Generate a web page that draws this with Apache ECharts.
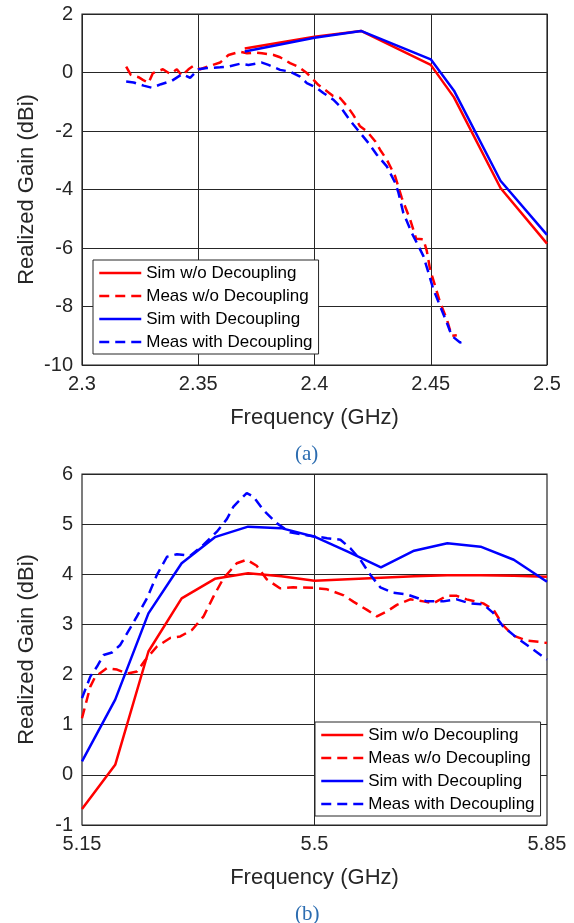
<!DOCTYPE html>
<html>
<head>
<meta charset="utf-8">
<script src="https://cdn.jsdelivr.net/npm/echarts@6/dist/echarts.min.js"></script>
<style>
html,body{margin:0;padding:0;background:#fff;}
#chart{width:574px;height:923px;}
</style>
</head>
<body>
<div id="chart"></div>
<script>
// ---------- DATA ----------
const seriesNames = ['Sim w/o Decoupling', 'Meas w/o Decoupling', 'Sim with Decoupling', 'Meas with Decoupling'];
const captionA = '(a)';
const captionB = '(b)';
const xNameA = 'Frequency (GHz)';
const yNameA = 'Realized Gain (dBi)';
const xTicksB = [5.15, 5.5, 5.85];

// (a) 2.4 GHz band  [frequency GHz, gain dBi]
const simWoA = [[2.37,0.82],[2.40,1.22],[2.42,1.42],[2.45,0.26],[2.46,-0.85],[2.48,-3.95],[2.50,-5.85]];
const simWithA = [[2.37,0.72],[2.40,1.19],[2.42,1.42],[2.45,0.45],[2.46,-0.62],[2.48,-3.70],[2.50,-5.55]];
const measWoA = [[2.319,0.20],[2.321,-0.08],[2.3243,-0.16],[2.3262,-0.25],[2.3286,-0.36],[2.3305,-0.02],[2.3348,0.11],[2.338,-0.05],[2.3408,0.11],[2.343,-0.11],[2.3458,0.11],[2.348,0.23],[2.3508,0.11],[2.3551,0.23],[2.3594,0.34],[2.363,0.60],[2.368,0.71],[2.371,0.66],[2.3752,0.68],[2.3774,0.66],[2.3824,0.60],[2.3852,0.52],[2.3895,0.32],[2.393,0.20],[2.3967,-0.02],[2.3989,-0.19],[2.4016,-0.42],[2.408,-0.80],[2.411,-0.87],[2.4145,-1.20],[2.4166,-1.44],[2.4196,-1.84],[2.4225,-2.01],[2.4261,-2.35],[2.4282,-2.64],[2.4311,-2.98],[2.4347,-3.55],[2.4375,-4.28],[2.4411,-5.02],[2.4437,-5.68],[2.4468,-5.70],[2.4483,-6.10],[2.4497,-6.73],[2.4519,-7.30],[2.454,-7.86],[2.4569,-8.43],[2.459,-9.00],[2.4612,-8.98]];
const measWithA = [[2.319,-0.31],[2.3222,-0.34],[2.3265,-0.45],[2.330,-0.52],[2.334,-0.40],[2.3387,-0.28],[2.343,-0.06],[2.3465,-0.18],[2.3501,0.11],[2.3537,0.15],[2.3594,0.18],[2.363,0.20],[2.368,0.30],[2.3716,0.26],[2.3774,0.34],[2.3802,0.26],[2.3852,0.09],[2.3895,0.03],[2.3938,-0.14],[2.3967,-0.36],[2.401,-0.53],[2.4038,-0.70],[2.4081,-0.93],[2.411,-1.16],[2.4146,-1.56],[2.4167,-1.78],[2.4203,-2.13],[2.4232,-2.41],[2.4268,-2.81],[2.4311,-3.21],[2.4347,-3.77],[2.4361,-4.11],[2.4382,-4.80],[2.4418,-5.48],[2.4447,-5.93],[2.4468,-6.27],[2.449,-6.84],[2.4511,-7.41],[2.454,-7.98],[2.4569,-8.55],[2.459,-9.00],[2.4626,-9.23],[2.4655,-9.17]];

// (b) 5 GHz band
const simWoB = [[5.15,-0.68],[5.20,0.20],[5.25,2.46],[5.30,3.52],[5.35,3.91],[5.40,4.02],[5.45,3.96],[5.50,3.87],[5.55,3.90],[5.60,3.93],[5.65,3.96],[5.70,3.98],[5.75,3.98],[5.80,3.97],[5.85,3.95]];
const simWithB = [[5.15,0.27],[5.20,1.50],[5.25,3.22],[5.30,4.22],[5.35,4.74],[5.40,4.95],[5.45,4.92],[5.50,4.75],[5.55,4.45],[5.60,4.14],[5.65,4.47],[5.70,4.62],[5.75,4.55],[5.80,4.29],[5.85,3.85]];
const measWoB = [[5.15,1.13],[5.1625,1.76],[5.17,1.96],[5.1876,2.13],[5.2027,2.10],[5.2177,2.02],[5.2327,2.06],[5.2452,2.29],[5.2628,2.56],[5.2828,2.73],[5.2979,2.76],[5.3155,2.89],[5.333,3.16],[5.348,3.56],[5.363,3.92],[5.383,4.22],[5.398,4.29],[5.413,4.17],[5.428,3.90],[5.448,3.72],[5.468,3.74],[5.498,3.73],[5.519,3.70],[5.544,3.58],[5.559,3.45],[5.579,3.29],[5.594,3.16],[5.609,3.26],[5.624,3.39],[5.644,3.50],[5.664,3.46],[5.679,3.42],[5.699,3.57],[5.714,3.57],[5.729,3.50],[5.754,3.42],[5.769,3.30],[5.784,2.98],[5.799,2.78],[5.819,2.68],[5.839,2.65],[5.85,2.63]];
const measWithB = [[5.15,1.53],[5.1625,1.96],[5.1726,2.16],[5.1825,2.39],[5.1951,2.44],[5.2076,2.59],[5.2227,2.93],[5.2327,3.16],[5.2478,3.52],[5.2628,3.99],[5.2779,4.35],[5.2929,4.40],[5.313,4.37],[5.333,4.59],[5.353,4.85],[5.368,5.10],[5.378,5.35],[5.398,5.62],[5.408,5.55],[5.423,5.28],[5.443,5.02],[5.463,4.84],[5.488,4.78],[5.519,4.72],[5.539,4.69],[5.554,4.52],[5.569,4.29],[5.584,3.99],[5.599,3.74],[5.619,3.63],[5.639,3.60],[5.669,3.46],[5.694,3.46],[5.714,3.50],[5.734,3.42],[5.754,3.40],[5.769,3.23],[5.784,2.96],[5.804,2.74],[5.827,2.52],[5.85,2.30]];

// ---------- CHART ----------
const FONT = 'Liberation Sans';
const TXT = '#262626';
const GRIDC = '#262626';
const RED = '#ff0000', BLUE = '#0000ff';
const DASH = [10, 6];

function mkSeries(name, data, color, dashed, idx, extra) {
  return Object.assign({
    name: name, type: 'line', data: data,
    xAxisIndex: idx, yAxisIndex: idx,
    symbol: 'none', showSymbol: false, smooth: false, animation: false,
    lineStyle: { color: color, width: 2.5, type: dashed ? DASH : 'solid' },
    itemStyle: { color: color }
  }, extra || {});
}

function mkLegend(left, top) {
  return {
    orient: 'vertical', left: left, top: top,
    itemWidth: 42, itemHeight: 14, itemGap: 5,
    padding: [4, 6, 3, 5],
    backgroundColor: '#fff', borderColor: GRIDC, borderWidth: 1, borderRadius: 0,
    textStyle: { fontFamily: FONT, fontSize: 17, lineHeight: 18, color: '#000' },
    itemStyle: { opacity: 0 },
    lineStyle: { width: 2.5 },
    selectedMode: false,
    data: seriesNames
  };
}

const axisLabelStyle = { fontFamily: FONT, fontSize: 20, color: TXT };
const nameStyle = { fontFamily: FONT, fontSize: 22, color: TXT };

const chart = echarts.init(document.getElementById('chart'), null, { renderer: 'canvas' });
chart.setOption({
  backgroundColor: '#fff',
  animation: false,
  title: [
    { text: captionA, left: 290, top: 439, textStyle: { fontFamily: 'Liberation Serif', fontSize: 21, fontWeight: 'normal', color: '#2b6cb0' } },
    { text: captionB, left: 290, top: 899, textStyle: { fontFamily: 'Liberation Serif', fontSize: 21, fontWeight: 'normal', color: '#2b6cb0' } }
  ],
  grid: [
    { left: 82, top: 14, width: 465, height: 351, show: true, borderColor: GRIDC, borderWidth: 1.2, backgroundColor: '#fff' },
    { left: 82, top: 474, width: 465, height: 351, show: true, borderColor: GRIDC, borderWidth: 1.2, backgroundColor: '#fff' }
  ],
  legend: [ mkLegend(93, 260), mkLegend(315, 722) ],
  xAxis: [
    { gridIndex: 0, type: 'value', min: 2.3, max: 2.5, interval: 0.05,
      name: xNameA, nameLocation: 'middle', nameGap: 42, nameTextStyle: nameStyle,
      axisLine: { show: false }, axisTick: { show: false },
      axisLabel: Object.assign({ margin: 9 }, axisLabelStyle),
      splitLine: { show: true, lineStyle: { color: GRIDC, width: 1 } } },
    { gridIndex: 1, type: 'value', min: 5.15, max: 5.85,
      name: xNameA, nameLocation: 'middle', nameGap: 42, nameTextStyle: nameStyle,
      axisLine: { show: false },
      axisTick: { show: false, customValues: xTicksB },
      axisLabel: Object.assign({ margin: 9, customValues: xTicksB }, axisLabelStyle),
      splitLine: { show: false } }
  ],
  yAxis: [
    { gridIndex: 0, type: 'value', min: -10, max: 2, interval: 2,
      name: yNameA, nameLocation: 'middle', nameGap: 44, nameMoveOverlap: false, nameTextStyle: nameStyle,
      axisLine: { show: false }, axisTick: { show: false },
      axisLabel: Object.assign({ margin: 9 }, axisLabelStyle),
      splitLine: { show: true, lineStyle: { color: GRIDC, width: 1 } } },
    { gridIndex: 1, type: 'value', min: -1, max: 6, interval: 1,
      name: yNameA, nameLocation: 'middle', nameGap: 44, nameMoveOverlap: false, nameTextStyle: nameStyle,
      axisLine: { show: false }, axisTick: { show: false },
      axisLabel: Object.assign({ margin: 9 }, axisLabelStyle),
      splitLine: { show: true, lineStyle: { color: GRIDC, width: 1 } } }
  ],
  series: [
    mkSeries(seriesNames[0], simWoA, RED, false, 0),
    mkSeries(seriesNames[1], measWoA, RED, true, 0),
    mkSeries(seriesNames[2], simWithA, BLUE, false, 0),
    mkSeries(seriesNames[3], measWithA, BLUE, true, 0),
    mkSeries(seriesNames[0], simWoB, RED, false, 1, {
      markLine: { silent: true, symbol: ['none', 'none'], animation: false, z: 1,
        label: { show: false },
        lineStyle: { color: GRIDC, width: 1, type: 'solid' },
        data: [ { xAxis: xTicksB[1] } ] }
    }),
    mkSeries(seriesNames[1], measWoB, RED, true, 1),
    mkSeries(seriesNames[2], simWithB, BLUE, false, 1),
    mkSeries(seriesNames[3], measWithB, BLUE, true, 1)
  ]
});
</script>
</body>
</html>
